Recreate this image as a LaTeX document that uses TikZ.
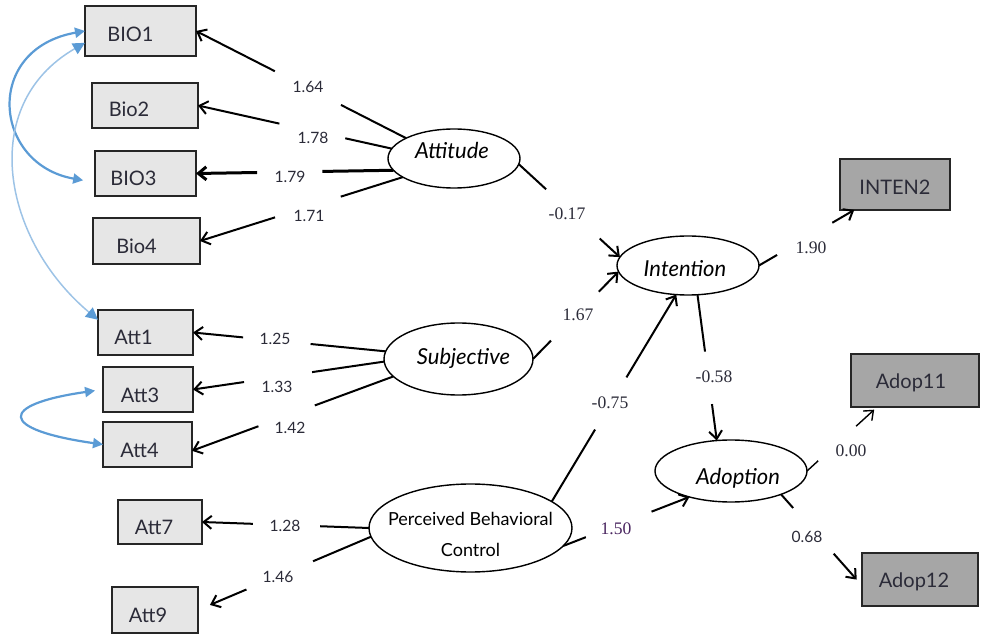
\documentclass[tikz,border=0pt]{standalone}
\usepackage{fontspec}
\setmainfont{Lato}
\newfontfamily\numserif{Liberation Serif}
\usetikzlibrary{arrows.meta,shapes.geometric,calc}
\definecolor{covblue}{HTML}{5B9BD5}
\definecolor{covlight}{HTML}{9DC3E6}
\definecolor{lgray}{HTML}{E6E6E6}
\definecolor{dgray}{HTML}{A6A6A6}
\definecolor{txtc}{HTML}{2B2B38}
\definecolor{purp}{HTML}{4A2660}
\newcommand\gedge[6][]{%
  \draw[lnk,#1] (#2) -- ($(#2)!#4!(#3)$);
  \draw[lnk,arr,#1,#6] ($(#2)!#5!(#3)$) -- (#3);}
\begin{document}
\begin{tikzpicture}[x=0.5pt,y=-0.5pt,
  lbox/.style={draw=black!85,line width=0.8pt,fill=lgray,inner sep=0pt,outer sep=0pt},
  rbox/.style={draw=black!85,line width=1pt,fill=dgray,inner sep=0pt,outer sep=0pt},
  btxt/.style={font=\fontsize{10}{12}\selectfont,text=txtc,inner sep=0pt},
  lat/.style={draw,ellipse,line width=0.7pt,inner sep=0pt,outer sep=0pt,fill=white},
  lattxt/.style={font=\fontsize{11}{13}\selectfont\itshape,inner sep=0pt},
  numl/.style={font=\fontsize{7.8}{9}\selectfont,text=txtc,inner sep=1pt},
  snum/.style={font=\fontsize{8.8}{10}\selectfont\numserif,text=txtc,inner sep=1pt},
  lnk/.style={line width=1pt},
  arr/.style={-{Straight Barb[length=4pt,width=6.5pt]}},
  covtip/.style={{Triangle[length=5pt,width=5pt,color=covblue]}-{Triangle[length=5pt,width=5pt,color=covblue]}},
  covtipbig/.style={{Triangle[length=6pt,width=6pt,color=covblue]}-{Triangle[length=6pt,width=6pt,color=covblue]}}
]
\useasboundingbox (0,0) rectangle (981,636);
% observed indicators (left)
\node[lbox,minimum width=55.5pt,minimum height=25pt,label={[btxt,xshift=-5pt,yshift=-1.75pt]center:BIO1}] (BIO1) at (140.5,31) {};
\node[lbox,minimum width=53pt,minimum height=22.5pt,label={[btxt,xshift=-8pt,yshift=-2pt]center:Bio2}] (Bio2) at (145,105.5) {};
\node[lbox,minimum width=50.5pt,minimum height=22.5pt,label={[btxt,xshift=-6pt,yshift=-2.5pt]center:BIO3}] (BIO3) at (145.5,173.5) {};
\node[lbox,minimum width=53.5pt,minimum height=23pt,label={[btxt,xshift=-5pt,yshift=-2.5pt]center:Bio4}] (Bio4) at (146.5,241) {};
\node[lbox,minimum width=47.5pt,minimum height=22.5pt,label={[btxt,xshift=-6pt,yshift=-2.5pt]center:Att1}] (Att1) at (145.5,332.5) {};
\node[lbox,minimum width=45pt,minimum height=22.5pt,label={[btxt,xshift=-4pt,yshift=-3pt]center:Att3}] (Att3) at (148,389.5) {};
\node[lbox,minimum width=44.5pt,minimum height=22.5pt,label={[btxt,xshift=-4pt,yshift=-3pt]center:Att4}] (Att4) at (147.5,444.5) {};
\node[lbox,minimum width=42pt,minimum height=22pt,label={[btxt,xshift=-3pt,yshift=-2.5pt]center:Att7}] (Att7) at (160,522) {};
\node[lbox,minimum width=43pt,minimum height=23pt,label={[btxt,xshift=-3.5pt,yshift=-2.5pt]center:Att9}] (Att9) at (155,610) {};
% observed indicators (right)
\node[rbox,minimum width=55pt,minimum height=25.5pt,label={[btxt,yshift=-1.5pt]center:INTEN2}] (INTEN2) at (895,184.5) {};
\node[rbox,minimum width=64pt,minimum height=26.5pt,label={[btxt,xshift=-2pt,yshift=-1pt]center:Adop11}] (Adop11) at (915,380.5) {};
\node[rbox,minimum width=58pt,minimum height=26.5pt,label={[btxt,xshift=-3pt,yshift=-1pt]center:Adop12}] (Adop12) at (920,579.5) {};
% latent variables
\node[lat,minimum width=66pt,minimum height=29.5pt,label={[lattxt,xshift=-1pt,yshift=4pt]center:Attitude}] (Attitude) at (454,158.5) {};
\node[lat,minimum width=74.5pt,minimum height=36pt,label={[lattxt,xshift=2.5pt,yshift=0.5pt]center:Subjective}] (Subjective) at (458.5,359) {};
\node[lat,minimum width=101.5pt,minimum height=44pt,label={[font=\fontsize{9}{15.5}\selectfont,align=center,inner sep=0pt,yshift=-3pt]center:{Perceived Behavioral\\Control}}] (PBC) at (470.5,528) {};
\node[lat,minimum width=71pt,minimum height=29.5pt,label={[lattxt,xshift=-1.5pt,yshift=-1.5pt]center:Intention}] (Intention) at (688,265.5) {};
\node[lat,minimum width=76pt,minimum height=31pt,label={[lattxt,xshift=3.5pt,yshift=-3.5pt]center:Adoption}] (Adoption) at (731,471) {};
% loadings
\gedge{Attitude.157}{BIO1.east}{0.31}{0.625}{}
\gedge{Attitude.171}{Bio2.east}{0.24}{0.58}{}
\gedge[line width=1.5pt]{Attitude.191}{BIO3.east}{0.36}{0.69}{}
\gedge{Attitude.200}{Bio4.east}{0.306}{0.63}{}
\gedge{Subjective.174}{Att1.east}{0.39}{0.74}{}
\gedge{Subjective.182}{Att3.east}{0.377}{0.733}{}
\gedge{Subjective.195}{Att4.-8}{0.39}{0.67}{}
\gedge{PBC.west}{Att7.east}{0.293}{0.695}{}
\gedge{PBC.185}{Att9.east}{0.335}{0.72}{shorten >=6.5pt}
% structural paths
\gedge{Attitude.-5}{Intention.173}{0.27}{0.80}{}
\gedge{Subjective.east}{Intention.185}{0.21}{0.77}{}
\gedge{PBC.18}{Intention.248}{0.348}{0.60}{}
\gedge{Intention.-72}{Adoption.115}{0.39}{0.75}{}
\gedge{PBC.-11}{Adoption.212}{0.18}{0.70}{}
\gedge{Intention.east}{INTEN2.212}{0.19}{0.77}{}
\gedge[line width=0.7pt]{Adoption.east}{Adop11.215}{0.16}{0.70}{shorten >=2pt}
\gedge{Adoption.-25}{Adop12.186}{0.15}{0.65}{shorten >=4pt}
% coefficient labels
\node[numl] (n164) at (308,87) {1.64};
\node[numl] (n178) at (313,138) {1.78};
\node[numl] (n179) at (290,177) {1.79};
\node[numl] (n171) at (309,216) {1.71};
\node[numl] (n125) at (275,339) {1.25};
\node[numl] (n133) at (277,387) {1.33};
\node[numl] (n142) at (290,428) {1.42};
\node[numl] (n128) at (285,526) {1.28};
\node[numl] (n146) at (278,577) {1.46};
\node[snum] (n017) at (567,214) {-0.17};
\node[snum] (n167) at (578,315) {1.67};
\node[snum] (n075) at (610,403) {-0.75};
\node[snum] (n058) at (714,377) {-0.58};
\node[snum,text=purp] (n150) at (616,529) {1.50};
\node[snum] (n190) at (811,248) {1.90};
\node[snum] (n000) at (851,451) {0.00};
\node[numl] (n068) at (807,537) {0.68};
% covariances
\draw[covblue,line width=1.1pt,covtip,shorten >=6pt] (BIO1.west) to[out=190,in=170,looseness=1.75] (BIO3.190);
\draw[covlight,line width=0.75pt,covtipbig] (BIO1.192) to[out=210,in=140,looseness=1.15] (Att1.165);
\draw[covblue,line width=1.1pt,covtip,shorten <=4pt] (Att3.west) .. controls +(-105,15) and +(-105,-15) .. (Att4.west);
\end{tikzpicture}
\end{document}
